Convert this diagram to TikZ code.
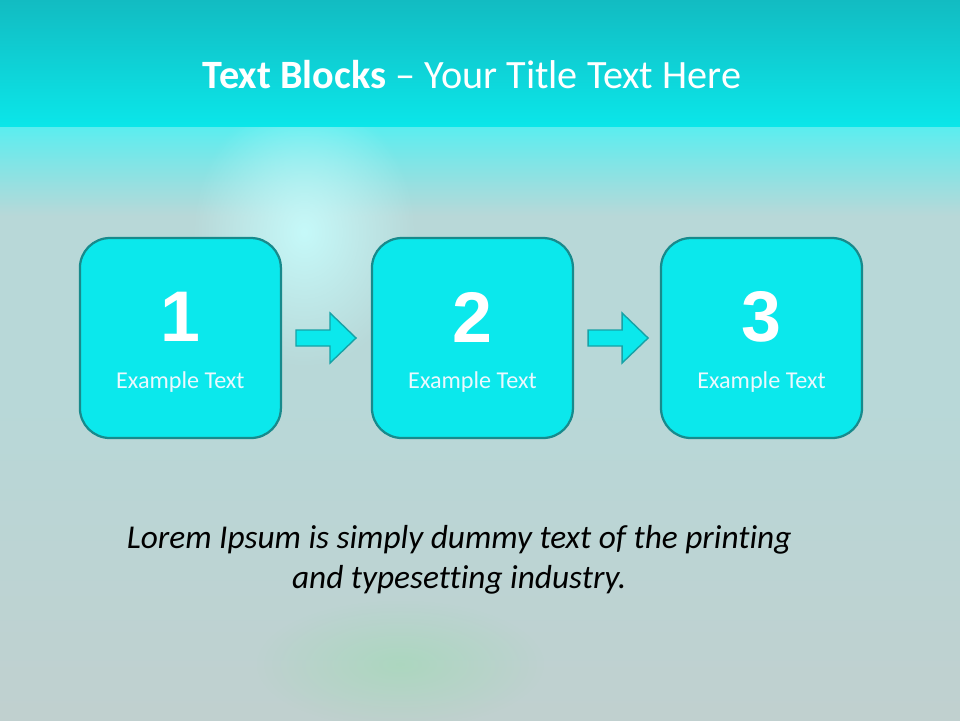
\documentclass[tikz,border=0pt]{standalone}
\usepackage{fontspec}
\setmainfont{Carlito}[Ligatures = NoCommon]
\newfontfamily\numfont{Liberation Sans}
\usepackage{tikz}
\usetikzlibrary{positioning, calc, fadings}

\definecolor{bandtop}{HTML}{12BCC2}
\definecolor{bandbot}{HTML}{0BE6E9}
\definecolor{bandglow}{HTML}{58EEF0}
\definecolor{bgmid}{HTML}{B8D8D8}
\definecolor{bglow}{HTML}{C0D0CF}
\definecolor{glow}{HTML}{C8FFFF}
\definecolor{boxfill}{HTML}{0BE8EC}
\definecolor{boxline}{HTML}{188A8C}
\definecolor{arrline}{HTML}{17A2A6}

\tikzfading[name = glowfade, inner color = transparent!0, outer color = transparent!100]

\begin{document}
\begin{tikzpicture}[stepbox/.style = {draw = boxline, fill = boxfill, line width = 1.6pt, rounded corners = 0.75cm, minimum width = 5.025cm, minimum height = 5cm, inner sep = 0pt},
                    bignum/.style = {text = white, font = \numfont\bfseries\fontsize{51}{51}\selectfont},
                    caption/.style = {text = white!92!cyan, font = \fontsize{17.2}{19}\selectfont},
                    blockarrow/.style = {draw = arrline, fill = boxfill, line width = 1pt, line join = miter}]
          \useasboundingbox (0,0) rectangle (24,-18);
          % background
          \fill[bgmid] (0,0) rectangle (24,-18);
          \shade[top color = bgmid, bottom color = bglow] (0,-10) rectangle (24,-18);
          \fill[green!30!bgmid, opacity = 0.3, path fading = glowfade] (10,-16.6) ellipse (3.6cm and 1.6cm);
          \shade[top color = bandglow, bottom color = bgmid] (0,-3.1) rectangle (24,-5.4);
          \fill[glow, opacity = 0.85, path fading = glowfade] (7.6,-5.8) ellipse (2.8cm and 3.4cm);
          \shade[top color = bandtop, bottom color = bandbot] (0,0) rectangle (24,-3.15);
          % title
          \node (title) at (11.8,-1.875) {\color{white}\fontsize{28.6}{32}\selectfont\textbf{Text Blocks} -- Your Title Text Here};
          % blocks
          \node[stepbox] (b1) at (4.51,-8.45) {};
          \node[stepbox, right = 2.22cm of b1] (b2) {};
          \node[stepbox, right = 2.145cm of b2] (b3) {};
          \foreach \n in {1,2,3}
          {
            \node[bignum] (n\n) at ([yshift = 0.525cm]b\n.center) {\n};
            \node[caption] (t\n) at ([yshift = -1.1cm]b\n.center) {Example Text};
          }
          % arrows
          \foreach \a/\b in {b1/b2, b2/b3}
          {
            \coordinate (s) at ([xshift = 0.35cm, yshift = 0.2cm]\a.east);
            \draw[blockarrow] (s) -- ++(0.85,0) -- ++(0,0.425) -- ++(0.65,-0.625) -- ++(-0.65,-0.625) -- ++(0,0.425) -- ++(-0.85,0) -- cycle;
          }
          % body text
          \node[align = center, font = \itshape\fontsize{23.7}{28.45}\selectfont] (lorem) at (11.48,-14.0) {Lorem Ipsum is simply dummy text of the printing\\and typesetting industry.};
        \end{tikzpicture}
\end{document}
